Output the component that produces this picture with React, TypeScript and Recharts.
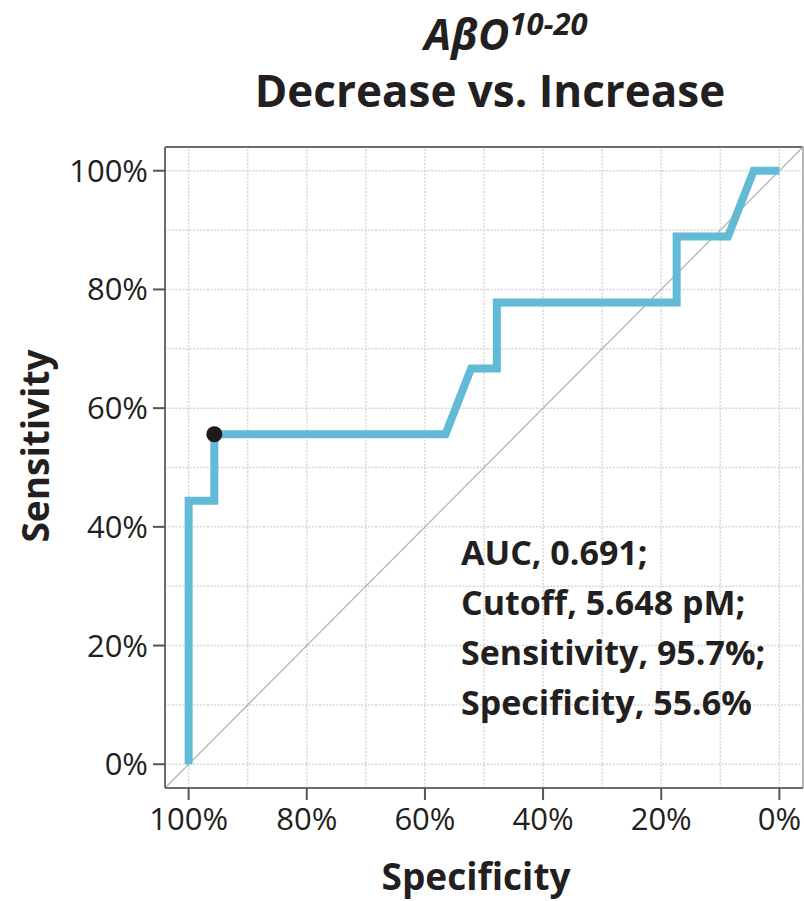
import React from 'react';
import {
  LineChart,
  Line,
  XAxis,
  YAxis,
  ReferenceLine,
  ReferenceDot,
} from 'recharts';

// ROC curve points (specificity runs 100% -> 0% from left to right)
const specificity = [100, 100, 95.65, 95.65, 56.52, 52.17, 47.83, 47.83, 17.39, 17.39, 8.7, 4.35, 0];
const sensitivity = [0, 44.4, 44.4, 55.6, 55.6, 66.7, 66.7, 77.8, 77.8, 88.9, 88.9, 100, 100];

const cutoffPoint = { specificity: 95.65, sensitivity: 55.6 };

const majorTicks = [0, 20, 40, 60, 80, 100];
const gridValues = [0, 10, 20, 30, 40, 50, 60, 70, 80, 90, 100];

const annotationLines = [
  'AUC, 0.691;',
  'Cutoff, 5.648 pM;',
  'Sensitivity, 95.7%;',
  'Specificity, 55.6%',
];

const rocData = specificity.map((s, i) => ({ spec: s, sens: sensitivity[i] }));

const FONT = '"Open Sans", "DejaVu Sans", sans-serif';
const TEXT = '#231f20';
const DOMAIN: [number, number] = [-4, 104];

export default function App() {
  return (
    <div style={styles.page}>
      <div style={styles.title1}>
        <span style={{ fontStyle: 'italic' }}>AβO</span>
        <span style={styles.sup}>10-20</span>
      </div>
      <div style={styles.title2}>Decrease vs. Increase</div>

      <div style={styles.chartBox}>
        <LineChart
          width={804}
          height={901}
          data={rocData}
          margin={{ top: 147, right: 1, bottom: 53, left: 65 }}
        >
          {/* dotted grid every 10% */}
          {gridValues.map(v => (
            <ReferenceLine
              key={'gx' + v}
              x={v}
              stroke="#d6d6d6"
              strokeWidth={1.5}
              strokeDasharray="2 1.5"
            />
          ))}
          {gridValues.map(v => (
            <ReferenceLine
              key={'gy' + v}
              y={v}
              stroke="#d6d6d6"
              strokeWidth={1.5}
              strokeDasharray="2 1.5"
            />
          ))}

          <XAxis
            dataKey="spec"
            type="number"
            domain={DOMAIN}
            reversed
            ticks={majorTicks}
            tickFormatter={v => `${v}%`}
            tick={{ fontSize: 31, fill: TEXT, fontFamily: FONT }}
            tickSize={12}
            tickMargin={8}
            axisLine={{ stroke: '#6d6d6d', strokeWidth: 2 }}
            tickLine={{ stroke: '#555', strokeWidth: 2 }}
            height={60}
            allowDataOverflow
          />
          <YAxis
            dataKey="sens"
            type="number"
            domain={DOMAIN}
            ticks={majorTicks}
            tickFormatter={v => `${v}%`}
            tick={{ fontSize: 31, fill: TEXT, fontFamily: FONT }}
            tickSize={12}
            tickMargin={5}
            axisLine={{ stroke: '#6d6d6d', strokeWidth: 2 }}
            tickLine={{ stroke: '#555', strokeWidth: 2 }}
            width={100}
            allowDataOverflow
          />

          {/* frame: top and right edges */}
          <ReferenceLine y={104} stroke="#6d6d6d" strokeWidth={2} />
          <ReferenceLine x={-4} stroke="#b5b5b5" strokeWidth={2} />

          {/* chance diagonal */}
          <ReferenceLine
            segment={[{ x: 104, y: -4 }, { x: -4, y: 104 }]}
            stroke="#b0b0b0"
            strokeWidth={1.2}
          />

          <Line
            type="linear"
            dataKey="sens"
            stroke="#62bad6"
            strokeWidth={8}
            dot={false}
            strokeLinejoin="miter"
            isAnimationActive={false}
          />

          <ReferenceDot
            x={cutoffPoint.specificity}
            y={cutoffPoint.sensitivity}
            r={8}
            fill="#1c1a1b"
            stroke="none"
          />
        </LineChart>
      </div>

      <div style={styles.annotation}>
        {annotationLines.map(line => (
          <div key={line} style={styles.annotationLine}>{line}</div>
        ))}
      </div>

      <div style={styles.xLabel}>Specificity</div>
      <div style={styles.yLabel}>Sensitivity</div>
    </div>
  );
}

const styles: Record<string, React.CSSProperties> = {
  page: {
    position: 'absolute',
    left: 0,
    top: 0,
    width: 804,
    height: 901,
    background: '#ffffff',
    fontFamily: FONT,
    color: TEXT,
    overflow: 'hidden',
  },
  chartBox: {
    position: 'absolute',
    left: 0,
    top: 0,
  },
  title1: {
    position: 'absolute',
    left: 0,
    width: 1012,
    top: 8,
    textAlign: 'center',
    fontSize: 43,
    fontWeight: 700,
    lineHeight: '52px',
  },
  sup: {
    fontSize: 31,
    fontStyle: 'italic',
    lineHeight: '31px',
    display: 'inline-block',
    verticalAlign: 'top',
    marginTop: 0,
  },
  title2: {
    position: 'absolute',
    left: 0,
    width: 980,
    top: 62,
    textAlign: 'center',
    fontSize: 44,
    fontWeight: 700,
    lineHeight: '56px',
  },
  annotation: {
    position: 'absolute',
    left: 461,
    top: 527,
    fontSize: 34,
    fontWeight: 700,
  },
  annotationLine: {
    height: 50,
    lineHeight: '50px',
    whiteSpace: 'nowrap',
  },
  xLabel: {
    position: 'absolute',
    left: 0,
    width: 952,
    top: 851,
    textAlign: 'center',
    fontSize: 37,
    fontWeight: 700,
    lineHeight: '50px',
  },
  yLabel: {
    position: 'absolute',
    left: 35,
    top: 446,
    fontSize: 37,
    fontWeight: 700,
    lineHeight: '50px',
    whiteSpace: 'nowrap',
    transform: 'translate(-50%, -50%) rotate(-90deg)',
  },
};
